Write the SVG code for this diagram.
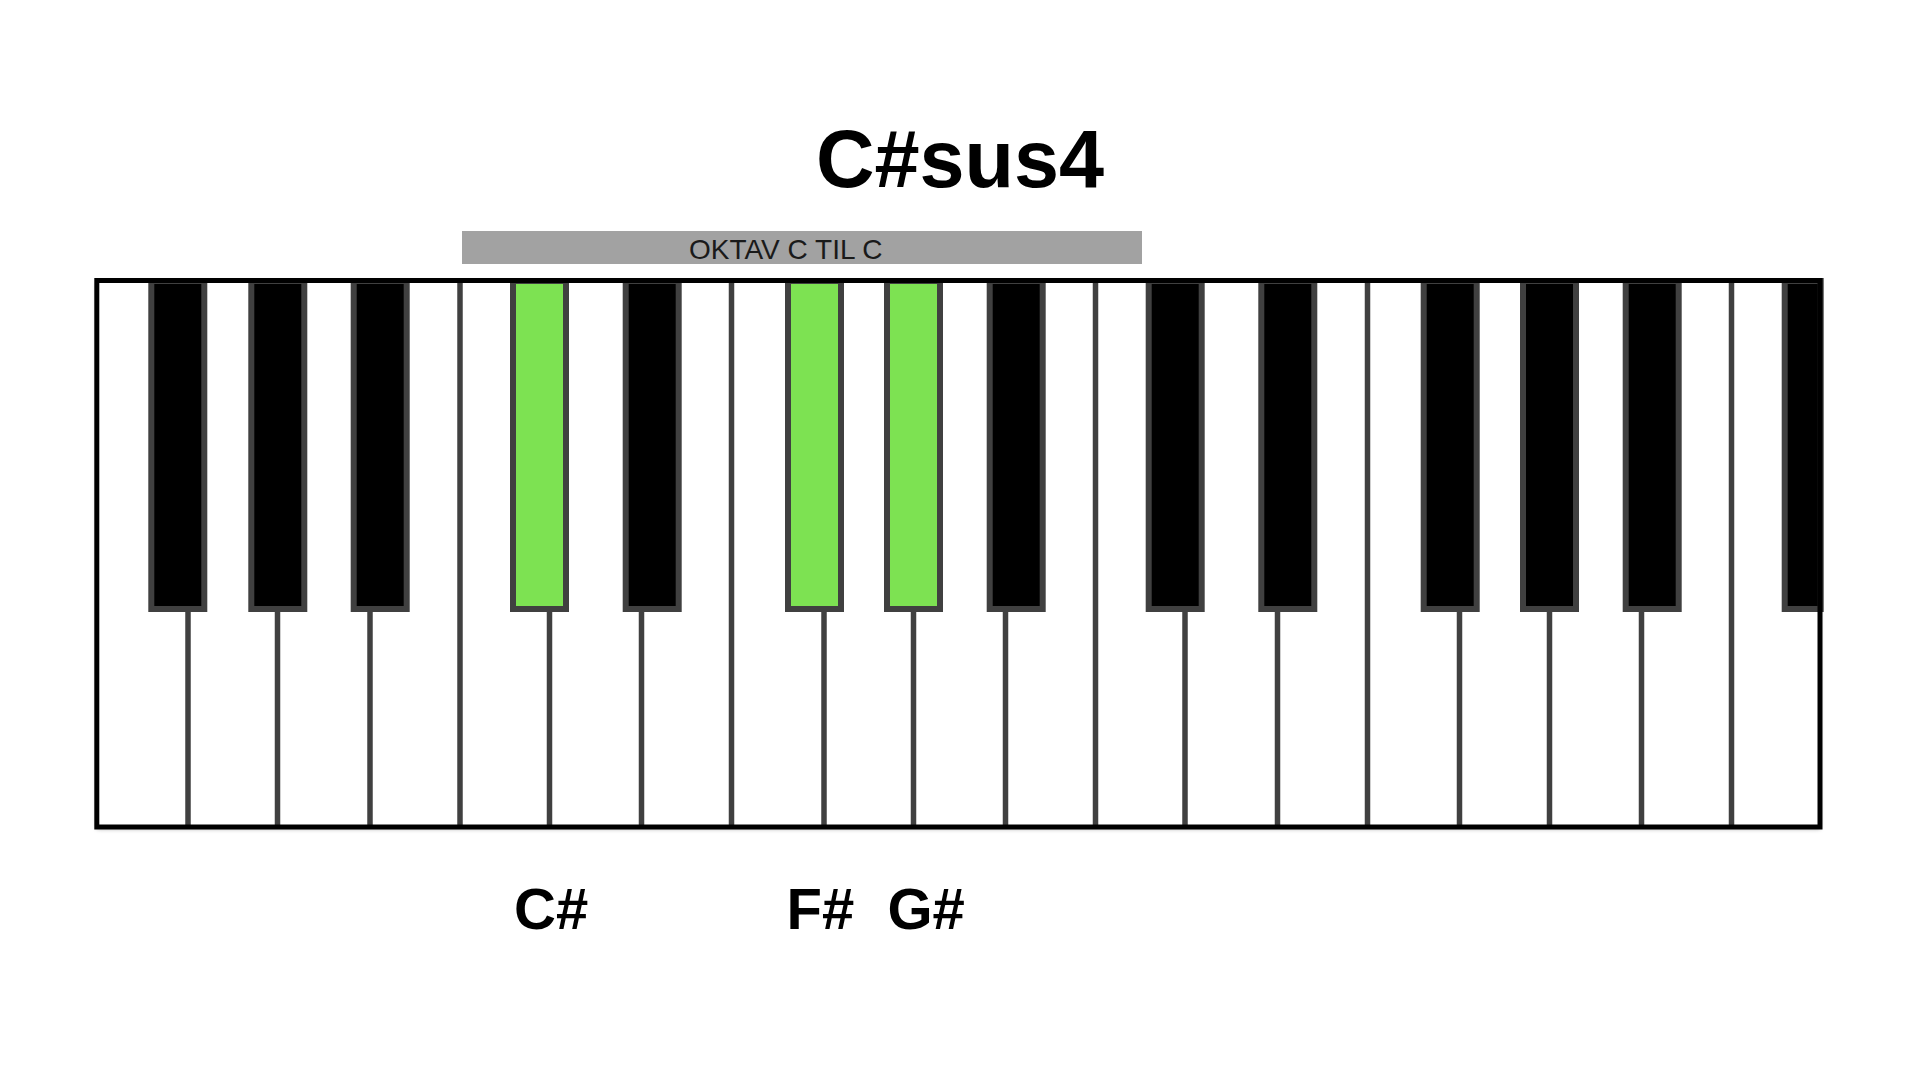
<svg xmlns="http://www.w3.org/2000/svg" width="1920" height="1080" viewBox="0 0 1920 1080">
  <defs>
    <filter id="shadow" x="-2%" y="-5%" width="104%" height="110%">
      <feDropShadow dx="0" dy="2" stdDeviation="2" flood-color="#000" flood-opacity="0.35"/>
    </filter>
    <style>
      .title { font-family: "Liberation Sans", Arial, sans-serif; font-weight: bold; font-size: 81px; fill: #000; }
      .bartext { font-family: "Liberation Sans", Arial, sans-serif; font-size: 28px; fill: #1a1a1a; }
      .note { font-family: "Liberation Sans", Arial, sans-serif; font-weight: bold; font-size: 58px; fill: #000; }
      .white { fill: #ffffff; }
      .div { stroke: #404040; stroke-width: 5.5; fill: none; }
      .black { fill: #000000; stroke: #404040; stroke-width: 6; }
      .green { fill: #7de252; stroke: #404040; stroke-width: 6; }
      .frame { fill: none; stroke: #000; stroke-width: 5; }
    </style>
  </defs>
  <rect width="1920" height="1080" fill="#ffffff"/>

  <g id="title">
    <text class="title" x="960" y="187" text-anchor="middle">C#sus4</text>
  </g>

  <g id="octave-bar">
    <rect x="462" y="231" width="680" height="33" fill="#a2a2a2"/>
    <text class="bartext" x="689" y="259">OKTAV C TIL C</text>
  </g>

  <g id="keyboard">
    <rect id="keyboard-bg" x="96.8" y="280.5" width="1723.2" height="546.5" class="white" filter="url(#shadow)"/>
    <g id="white-key-dividers">
      <line class="div" x1="188" y1="281" x2="188" y2="827"/>
      <line class="div" x1="277.5" y1="281" x2="277.5" y2="827"/>
      <line class="div" x1="370" y1="281" x2="370" y2="827"/>
      <line class="div" x1="460" y1="281" x2="460" y2="827"/>
      <line class="div" x1="549.5" y1="281" x2="549.5" y2="827"/>
      <line class="div" x1="641.5" y1="281" x2="641.5" y2="827"/>
      <line class="div" x1="731.5" y1="281" x2="731.5" y2="827"/>
      <line class="div" x1="824" y1="281" x2="824" y2="827"/>
      <line class="div" x1="913.5" y1="281" x2="913.5" y2="827"/>
      <line class="div" x1="1005.5" y1="281" x2="1005.5" y2="827"/>
      <line class="div" x1="1095.5" y1="281" x2="1095.5" y2="827"/>
      <line class="div" x1="1185" y1="281" x2="1185" y2="827"/>
      <line class="div" x1="1277.5" y1="281" x2="1277.5" y2="827"/>
      <line class="div" x1="1367.5" y1="281" x2="1367.5" y2="827"/>
      <line class="div" x1="1459.5" y1="281" x2="1459.5" y2="827"/>
      <line class="div" x1="1549.5" y1="281" x2="1549.5" y2="827"/>
      <line class="div" x1="1641.5" y1="281" x2="1641.5" y2="827"/>
      <line class="div" x1="1731.5" y1="281" x2="1731.5" y2="827"/>
    </g>
    <g id="black-keys">
      <rect id="key-fs1" class="black" x="151.3" y="281" width="53" height="328"/>
      <rect id="key-gs1" class="black" x="251.3" y="281" width="53" height="328"/>
      <rect id="key-as1" class="black" x="353.7" y="281" width="53" height="328"/>
      <rect id="key-cs1" class="green" x="513" y="281" width="53" height="328"/>
      <rect id="key-ds1" class="black" x="625.7" y="281" width="53" height="328"/>
      <rect id="key-fs2" class="green" x="788" y="281" width="53" height="328"/>
      <rect id="key-gs2" class="green" x="887" y="281" width="53" height="328"/>
      <rect id="key-as2" class="black" x="989.7" y="281" width="53" height="328"/>
      <rect id="key-cs2" class="black" x="1148.7" y="281" width="53" height="328"/>
      <rect id="key-ds2" class="black" x="1261.3" y="281" width="53" height="328"/>
      <rect id="key-fs3" class="black" x="1423.7" y="281" width="53" height="328"/>
      <rect id="key-gs3" class="black" x="1523" y="281" width="53" height="328"/>
      <rect id="key-as3" class="black" x="1625.7" y="281" width="53" height="328"/>
      <rect id="key-cs3" class="black" x="1784.7" y="281" width="36" height="328"/>
    </g>
    <rect id="keyboard-frame" class="frame" x="96.8" y="280.5" width="1723.2" height="546.5"/>
  </g>

  <g id="note-labels">
    <text id="label-cs" class="note" x="514" y="929">C#</text>
    <text id="label-fs" class="note" x="786.5" y="929">F#</text>
    <text id="label-gs" class="note" x="887.5" y="929">G#</text>
  </g>
</svg>
